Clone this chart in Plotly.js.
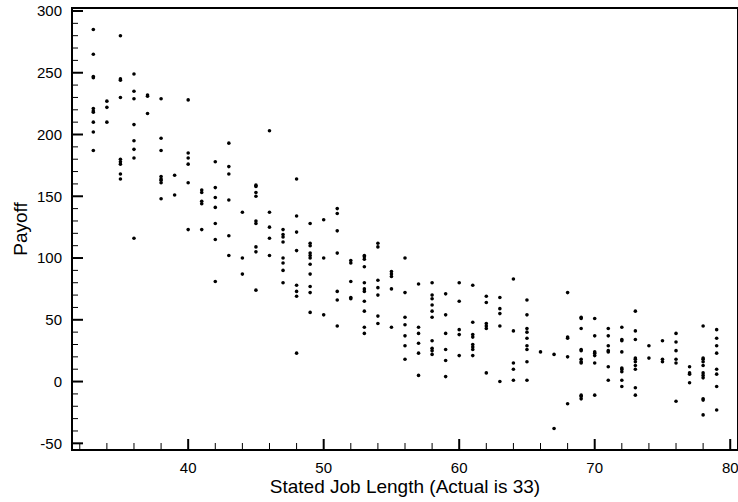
<!DOCTYPE html>
<html>
<head>
<meta charset="utf-8">
<script src="https://cdn.plot.ly/plotly-3.0.1.min.js"></script>
<style>html,body{margin:0;padding:0;background:#fff;}#chart{width:738px;height:502px;}</style>
</head>
<body>
<div id="chart"></div>
<script>
// Stated job length values (x) and the payoffs observed at each
const statedLength = [33,34,35,36,37,38,39,40,41,42,43,44,45,46,47,48,49,50,51,52,53,54,55,56,57,58,59,60,61,62,63,64,65,66,67,68,69,70,71,72,73,74,75,76,77,78,79];
const payoffs = [
  [285,265,247,246,221,219,218,210,202,187],
  [227,222,210],
  [280,245,244,230,180,178,176,168,164],
  [249,235,229,208,195,188,181,116],
  [232,231,217],
  [229,197,187,166,164,163,161,148],
  [167,151],
  [228,185,181,176,161,123],
  [155,153,146,144,123],
  [178,157,149,141,128,115,81],
  [193,174,168,147,118,102],
  [137,100,87],
  [159,158,153,150,130,128,109,105,74],
  [203,137,125,116,102],
  [123,119,117,113,100,96,90,80],
  [164,134,121,106,78,73,69,23],
  [128,112,110,104,102,100,95,87,77,72,56],
  [131,100,54],
  [140,136,122,104,73,66,45],
  [98,96,81,68,67],
  [102,101,99,93,80,75,73,65,57,44,39],
  [112,109,82,76,70,53,47],
  [89,87,85,75,44],
  [100,72,52,46,37,29,18],
  [79,44,39,31,23,5],
  [80,70,67,62,57,52,33,27,25,22],
  [71,54,39,26,17,4],
  [80,65,42,38,21],
  [78,48,38,36,30,28,26,21],
  [69,64,47,45,43,7],
  [68,59,55,45,0],
  [83,41,15,10,1],
  [66,54,43,40,35,29,26,16,1],
  [24],
  [22,-38],
  [72,36,35,20,-18],
  [52,51,43,26,25,18,16,15,-11,-12,-14],
  [51,37,24,23,21,15,-11],
  [43,37,29,25,24,12,1],
  [44,34,33,24,11,10,8,1,-4],
  [57,41,34,19,18,16,13,10,-5,-11],
  [29,19],
  [33,18,16],
  [39,32,25,18,15,-16],
  [12,7,6,-1],
  [45,19,18,16,13,7,5,3,-14,-15,-27],
  [42,35,29,23,10,6,-4,-23]
];
const xTickVals = [40,50,60,70,80];
const xTickText = ['40','50','60','70','80'];
const yTickVals = [-50,0,50,100,150,200,250,300];
const yTickText = ['-50','0','50','100','150','200','250','300'];

const xRange = [31.5, 80.5];
const yRange = [-54.6, 301.6];
const xMinorStep = 2;
const yMinorStep = 10;

const W = 738, H = 502;
const margin = {l: 73, r: 1, t: 9, b: 53};
const plotW = W - margin.l - margin.r, plotH = H - margin.t - margin.b;
// data units per pixel, from the axis scales
const xPerPx = (xRange[1] - xRange[0]) / plotW;
const yPerPx = (yRange[1] - yRange[0]) / plotH;

const xs = [], ys = [];
statedLength.forEach((len, i) => {
  payoffs[i].forEach(p => { xs.push(len); ys.push(p); });
});

const font = {family: 'Liberation Sans, Arial, Helvetica, sans-serif', color: '#000'};

const trace = {
  x: xs, y: ys, type: 'scatter', mode: 'markers',
  marker: {size: 3.6, color: '#000'},
  hoverinfo: 'x+y'
};

// inward tick marks on left and bottom axes, built as line segments
function tickTrace(xVals, yVals, lenPx, width) {
  const tx = [], ty = [];
  xVals.forEach(v => { tx.push(v, v, null); ty.push(yRange[0], yRange[0] + lenPx * yPerPx, null); });
  yVals.forEach(v => { tx.push(xRange[0], xRange[0] + lenPx * xPerPx, null); ty.push(v, v, null); });
  return {x: tx, y: ty, type: 'scatter', mode: 'lines', line: {color: '#000', width: width},
    hoverinfo: 'skip', showlegend: false, cliponaxis: false};
}
const xMinor = [], yMinor = [];
for (let v = Math.ceil(xRange[0] / xMinorStep) * xMinorStep; v <= xRange[1]; v += xMinorStep) {
  if (xTickVals.indexOf(v) === -1) xMinor.push(v);
}
for (let v = Math.ceil(yRange[0] / yMinorStep) * yMinorStep; v <= yRange[1]; v += yMinorStep) {
  if (yTickVals.indexOf(v) === -1) yMinor.push(v);
}
const minorTicks = tickTrace(xMinor, [], 6, 1);
const minorYTicks = tickTrace([], yMinor, 5, 1);
const majorTicks = tickTrace(xTickVals, yTickVals, 10, 2);

const layout = {
  width: W, height: H,
  margin: margin,
  paper_bgcolor: '#fff', plot_bgcolor: '#fff',
  showlegend: false,
  font: font,
  xaxis: {
    range: xRange, tickmode: 'array', tickvals: xTickVals, ticktext: xTickText,
    showgrid: false, zeroline: false, showline: true, linecolor: '#000', linewidth: 2, mirror: true,
    ticks: '', tickfont: Object.assign({size: 15}, font), ticklabeloverflow: 'allow',
    ticklabelstandoff: 4,
    title: {text: 'Stated Job Length (Actual is 33)', font: Object.assign({size: 19}, font), standoff: 4}
  },
  yaxis: {
    range: yRange, tickmode: 'array', tickvals: yTickVals, ticktext: yTickText,
    showgrid: false, zeroline: false, showline: true, linecolor: '#000', linewidth: 2, mirror: true,
    ticks: '', tickfont: Object.assign({size: 15}, font), ticklabeloverflow: 'allow',
    ticklabelstandoff: 6,
    title: {text: 'Payoff', font: Object.assign({size: 19}, font), standoff: 4}
  }
};

Plotly.newPlot('chart', [minorTicks, minorYTicks, majorTicks, trace], layout, {displayModeBar: false});
</script>
</body>
</html>
